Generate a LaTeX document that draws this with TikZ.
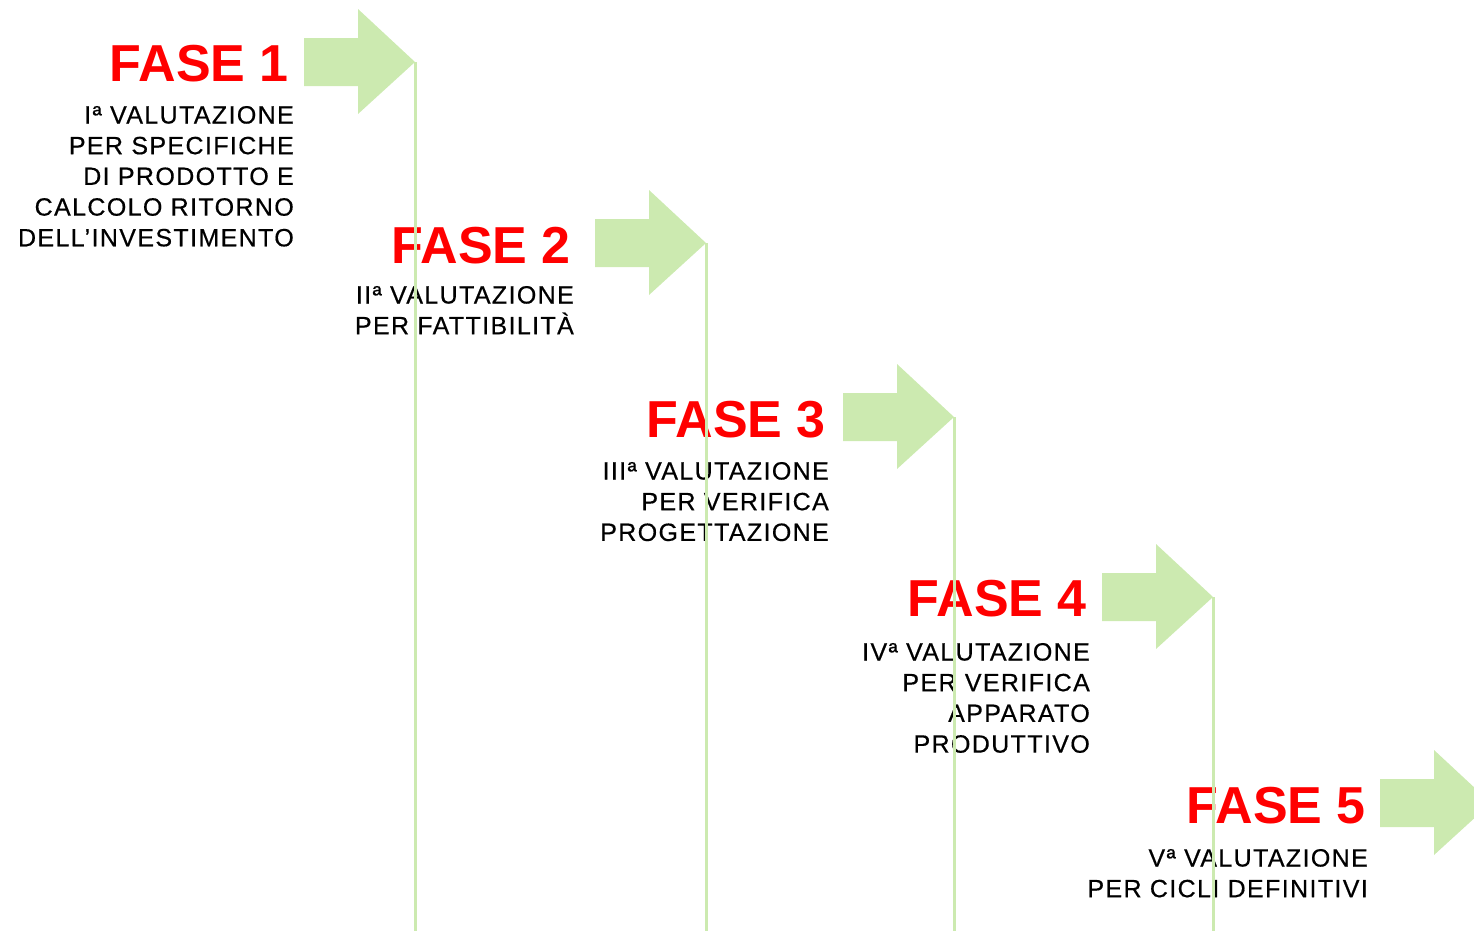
\documentclass[tikz,border=0pt]{standalone}
\usepackage{fontspec}
\setmainfont{Liberation Sans}
\newfontfamily\notefont[LetterSpace=5.5,FakeBold=0.5]{Liberation Sans}
\definecolor{arrowgreen}{RGB}{204,234,176}
\definecolor{phasered}{RGB}{255,0,0}

% block arrow ending at a named tip: #1 name, #2 tip x, #3 tip y
\newcommand\phasearrow[3]{%
  \fill[flow] (#2-111,#3-24) -- (#2-57,#3-24) -- (#2-57,#3-53) -- (#2,#3)
    -- (#2-57,#3+52) -- (#2-57,#3+24) -- (#2-111,#3+24) -- cycle;
  \coordinate (#1) at (#2,#3);
}

\begin{document}
\begin{tikzpicture}[x=1pt,y=-1pt,
  phase/.style={anchor=base east, inner sep=0pt, text=phasered,
    font=\fontsize{52}{52}\selectfont\bfseries},
  % anchored at the baseline of the last line (30.7pt line pitch)
  note/.style={anchor=base east, inner sep=0pt, align=right,
    font=\notefont\fontsize{25}{30.7}\selectfont},
  stem/.style={draw=arrowgreen, line width=3pt},
  flow/.style={fill=arrowgreen}]
\clip (0,0) rectangle (1474,930);
\coordinate (bottom) at (0,931);

% arrows
\phasearrow{t1}{415}{62}
\phasearrow{t2}{706}{243}
\phasearrow{t3}{954}{417}
\phasearrow{t4}{1213}{597}
\phasearrow{t5}{1491}{803}

% phase titles
\node[phase] (f1) at (289,81) {FASE 1};
\node[phase] (f2) at (571,263) {FASE 2};
\node[phase] (f3) at (826,437) {FASE 3};
\node[phase] (f4) at (1087,616) {FASE 4};
\node[phase] (f5) at (1366,823) {FASE 5};

% phase descriptions
\node[note] (n1) at (294,{123.5+4*30.7}) {Iª VALUTAZIONE\\PER SPECIFICHE\\DI PRODOTTO E\\CALCOLO RITORNO\\DELL’INVESTIMENTO};
\node[note] (n2) at (574,{303.5+30.7}) {IIª VALUTAZIONE\\PER FATTIBILITÀ};
\node[note] (n3) at (829,{479.5+2*30.7}) {IIIª VALUTAZIONE\\PER VERIFICA\\PROGETTAZIONE};
\node[note] (n4) at (1090,{660.5+3*30.7}) {IVª VALUTAZIONE\\PER VERIFICA\\APPARATO\\PRODUTTIVO};
\node[note] (n5) at (1368,{866.5+30.7}) {Vª VALUTAZIONE\\PER CICLI DEFINITIVI};

% vertical stems from each arrow tip
\foreach \t in {t1,t2,t3,t4,t5}
  \draw[stem] (\t) -- (\t |- bottom);
\end{tikzpicture}
\end{document}
